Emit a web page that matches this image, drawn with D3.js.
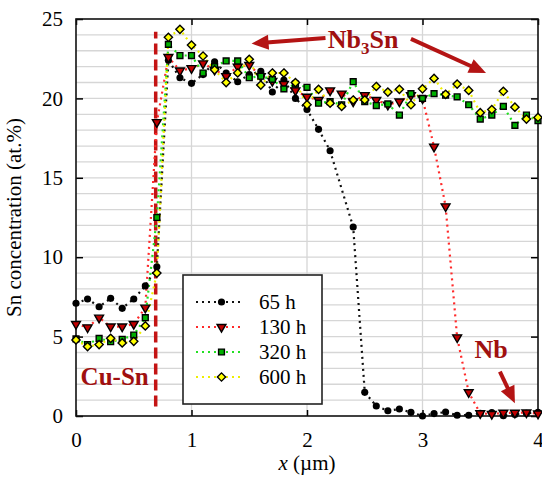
<!DOCTYPE html>
<html>
<head>
<meta charset="utf-8">
<script src="https://cdn.jsdelivr.net/npm/d3@7"></script>
<style>
  body { margin: 0; background: #fff; }
  svg text { font-family: "Times New Roman", "Liberation Serif", "DejaVu Serif", serif !important; }
</style>
</head>
<body>
<script>
// x positions (µm)
var xs = [0, 0.1, 0.2, 0.3, 0.4, 0.5, 0.6, 0.7, 0.8, 0.9,
          1.0, 1.1, 1.2, 1.3, 1.4, 1.5, 1.6, 1.7, 1.8, 1.9,
          2.0, 2.1, 2.2, 2.3, 2.4, 2.5, 2.6, 2.7, 2.8, 2.9,
          3.0, 3.1, 3.2, 3.3, 3.4, 3.5, 3.6, 3.7, 3.8, 3.9, 4.0];

// Sn concentration (at.%) per anneal time
var sn65 = [7.1, 7.37, 6.88, 7.41, 6.78, 7.37, 8.19, 9.4, 22.4, 21.3,
            20.95, 21.5, 22.3, 21.6, 21.05, 21.5, 21.7, 20.4, 21.16, 20.0,
            19.3, 18.05, 16.7, null, 11.9, 1.49, 0.63, 0.33, 0.44, 0.23,
            0.0, 0.15, 0.25, 0.05, 0.05, 0.17, 0.21, 0.02, 0.1, 0.17, 0.23];
var sn130 = [5.79, 5.58, 6.19, 5.63, 5.63, 5.79, 6.82, 18.5, 22.6, 21.75,
             21.9, 22.2, 21.8, 21.4, 22.0, 22.1, 21.4, 21.1, 20.9, 20.5,
             20.1, 19.9, 20.5, 20.3, 19.8, 20.2, 19.9, 19.6, 19.8, 20.2,
             20.0, 16.96, 13.2, 4.95, 1.49, 0.17, 0.12, 0.2, 0.2, 0.22, 0.15];
var sn320 = [4.85, 4.5, 4.89, 4.68, 4.83, 5.1, 6.19, 12.5, 23.4, 22.7,
             22.7, 21.6, 22.0, 22.36, 22.36, 21.3, 21.4, 21.2, 20.6, 20.9,
             20.7, 19.7, 19.8, 19.6, 21.05, 19.8, 19.55, 19.65, 18.95, 20.3,
             20.0, 20.3, 20.2, 20.1, 19.6, 18.7, 18.95, 19.5, 18.3, 18.95, 18.6];
var sn600 = [4.79, 4.37, 4.5, 4.89, 4.6, 4.7, 5.67, 9.0, 23.85, 24.35,
             23.36, 22.67, 21.8, 21.0, 21.6, 22.46, 20.84, 21.6, 21.6, 21.0,
             19.6, 20.57, 19.7, 19.5, 19.9, 19.9, 20.75, 20.4, 20.57, 19.6,
             20.6, 21.26, 20.26, 20.9, 20.5, 19.1, 19.3, 20.45, 19.45, 18.7, 18.8];

var seriesNames = ["65 h", "130 h", "320 h", "600 h"];
var xTicks = [0, 1, 2, 3, 4];
var yTicks = [0, 5, 10, 15, 20, 25];

var serif = "Times New Roman, Liberation Serif, DejaVu Serif, serif";

// グラフサイズ
var W = 542, H = 477;
var margin = {top: 19, right: 4, bottom: 61, left: 76};
var width = W - margin.left - margin.right,
    height = H - margin.top - margin.bottom;

var xScale = d3.scaleLinear().domain([0, 4]).range([0, width]);
var yScale = d3.scaleLinear().domain([0, 25]).range([height, 0]);

var svg = d3.select("body").append("svg")
    .attr("width", W).attr("height", H)
    .attr("font-family", serif)
  .append("g")
    .attr("transform", "translate(" + margin.left + "," + margin.top + ")");

// grid
svg.append("g").selectAll("line")
  .data(d3.range(1, 25))
  .enter().append("line")
    .attr("x1", 0).attr("x2", width)
    .attr("y1", function(d) { return yScale(d); })
    .attr("y2", function(d) { return yScale(d); })
    .style("stroke", "#d6d6d6").style("stroke-width", 1.3);
svg.append("g").selectAll("line")
  .data([1, 2, 3])
  .enter().append("line")
    .attr("y1", 0).attr("y2", height)
    .attr("x1", function(d) { return xScale(d); })
    .attr("x2", function(d) { return xScale(d); })
    .style("stroke", "#d6d6d6").style("stroke-width", 1.3);

// axes (ticks inward)
function styleAxis(g) {
  g.attr("font-family", serif).attr("font-size", 21);
  g.select(".domain").remove();
  g.selectAll(".tick line").style("stroke", "#000").style("stroke-width", 1.5);
  g.selectAll("text").style("fill", "#000");
}
svg.append("g")
    .attr("transform", "translate(0," + height + ")")
    .call(d3.axisBottom(xScale).tickValues(xTicks).tickFormat(d3.format("d")).tickSizeInner(-6).tickPadding(16))
    .call(styleAxis);
svg.append("g")
    .call(d3.axisTop(xScale).tickValues(xTicks).tickSizeInner(-6).tickFormat(""))
    .call(styleAxis);
svg.append("g")
    .call(d3.axisLeft(yScale).tickValues(yTicks).tickSizeInner(-7).tickPadding(13))
    .call(styleAxis);
svg.append("g")
    .attr("transform", "translate(" + width + ",0)")
    .call(d3.axisRight(yScale).tickValues(yTicks).tickSizeInner(-7).tickFormat(""))
    .call(styleAxis);

svg.append("rect")
    .attr("width", width).attr("height", height)
    .style("fill", "none").style("stroke", "#111").style("stroke-width", 1.6);

// axis titles
svg.append("text")
    .attr("x", xScale(2)).attr("y", height + 54)
    .attr("text-anchor", "middle")
    .attr("font-size", 21)
    .html('<tspan font-style="italic">x</tspan> (µm)');
svg.append("text")
    .attr("transform", "translate(" + (-55) + "," + (height / 2) + ") rotate(-90)")
    .attr("text-anchor", "middle")
    .attr("font-size", 21)
    .text("Sn concentration (at.%)");

// Cu-Sn boundary
var darkRed = "#a01010";
svg.append("line")
    .attr("x1", xScale(0.69)).attr("x2", xScale(0.69))
    .attr("y1", yScale(0.6)).attr("y2", yScale(24.2))
    .style("stroke", "#c41414").style("stroke-width", 3.5)
    .style("stroke-dasharray", "11,5");

// series
var series = [
  {name: seriesNames[0], values: sn65,  line: "#111",    fill: "#000",    shape: "circle"},
  {name: seriesNames[1], values: sn130, line: "#ff2a2a", fill: "#c00000", shape: "triangle"},
  {name: seriesNames[2], values: sn320, line: "#22e022", fill: "#00b000", shape: "square"},
  {name: seriesNames[3], values: sn600, line: "#eeee00", fill: "#ffff00", shape: "diamond"}
];

var diamondType = {
  draw: function(ctx, size) {
    var r = Math.sqrt(size / 2);
    ctx.moveTo(0, -r); ctx.lineTo(r, 0); ctx.lineTo(0, r); ctx.lineTo(-r, 0); ctx.closePath();
  }
};
var symbolOf = {
  circle: d3.symbol().type(d3.symbolCircle).size(40),
  triangle: d3.symbol().type(d3.symbolTriangle).size(34),
  square: d3.symbol().type(d3.symbolSquare).size(34),
  diamond: d3.symbol().type(diamondType).size(34)
};

var valueline = d3.line()
    .x(function(d) { return xScale(d.x); })
    .y(function(d) { return yScale(d.y); });

series.forEach(function(s) {
  s.points = xs.map(function(x, i) { return {x: x, y: s.values[i]}; })
    .filter(function(d) { return d.y !== null; });
  svg.append("path")
    .attr("d", valueline(s.points))
    .style("fill", "none").style("stroke", s.line)
    .style("stroke-width", 2.2).style("stroke-dasharray", "2,4");
});

function drawMarker(sel, s) {
  sel.attr("d", symbolOf[s.shape]())
    .style("fill", s.fill)
    .style("stroke", "#000")
    .style("stroke-width", s.shape === "circle" ? 0 : 1.4);
}

series.forEach(function(s) {
  svg.append("g").selectAll("path")
    .data(s.points)
    .enter().append("path")
      .attr("transform", function(d) {
        return "translate(" + xScale(d.x) + "," + yScale(d.y) + ")" + (s.shape === "triangle" ? " rotate(180)" : "");
      })
      .call(drawMarker, s);
});

// legend
var legend = svg.append("g").attr("transform", "translate(" + (183 - margin.left) + "," + (275 - margin.top) + ")");
legend.append("rect")
    .attr("width", 139).attr("height", 129)
    .style("fill", "#fff").style("stroke", "#222").style("stroke-width", 1.6);
series.forEach(function(s, i) {
  var y = 27 + i * 25;
  legend.append("line")
      .attr("x1", 13).attr("x2", 60).attr("y1", y).attr("y2", y)
      .style("stroke", s.line).style("stroke-width", 2.2).style("stroke-dasharray", "2,4");
  legend.append("path")
      .attr("transform", "translate(38.5," + y + ")" + (s.shape === "triangle" ? " rotate(180)" : ""))
      .call(drawMarker, s);
  legend.append("text")
      .attr("x", 76).attr("y", y + 7)
      .attr("font-size", 21)
      .text(s.name);
});

// annotations
svg.append("text")
    .attr("x", xScale(0.04)).attr("y", yScale(1.95))
    .attr("font-size", 25).attr("font-weight", "bold").style("fill", darkRed)
    .text("Cu-Sn");

var nb3sn = svg.append("text")
    .attr("x", xScale(2.18)).attr("y", yScale(23.2))
    .attr("font-size", 26).attr("font-weight", "bold").style("fill", darkRed);
nb3sn.append("tspan").text("Nb");
nb3sn.append("tspan").attr("dy", 6).attr("font-size", 17).text("3");
nb3sn.append("tspan").attr("dy", -6).text("Sn");

svg.append("text")
    .attr("x", xScale(3.45)).attr("y", yScale(3.65))
    .attr("font-size", 26).attr("font-weight", "bold").style("fill", darkRed)
    .text("Nb");

function arrow(x1, y1, x2, y2) {
  var a = Math.atan2(yScale(y2) - yScale(y1), xScale(x2) - xScale(x1));
  var len = 17, half = 7.5;
  var tx = xScale(x2), ty = yScale(y2);
  var bx = tx - len * Math.cos(a), by = ty - len * Math.sin(a);
  svg.append("line")
      .attr("x1", xScale(x1)).attr("y1", yScale(y1))
      .attr("x2", bx + 2 * Math.cos(a)).attr("y2", by + 2 * Math.sin(a))
      .style("stroke", "#b41414").style("stroke-width", 4);
  svg.append("path")
      .attr("d", "M" + tx + "," + ty +
                 "L" + (bx + half * Math.sin(a)) + "," + (by - half * Math.cos(a)) +
                 "L" + (bx - half * Math.sin(a)) + "," + (by + half * Math.cos(a)) + "Z")
      .style("fill", "#b41414");
}
arrow(2.16, 23.8, 1.52, 23.45);
arrow(2.9, 23.75, 3.55, 21.6);
arrow(3.67, 2.8, 3.8, 0.8);
</script>
</body>
</html>
